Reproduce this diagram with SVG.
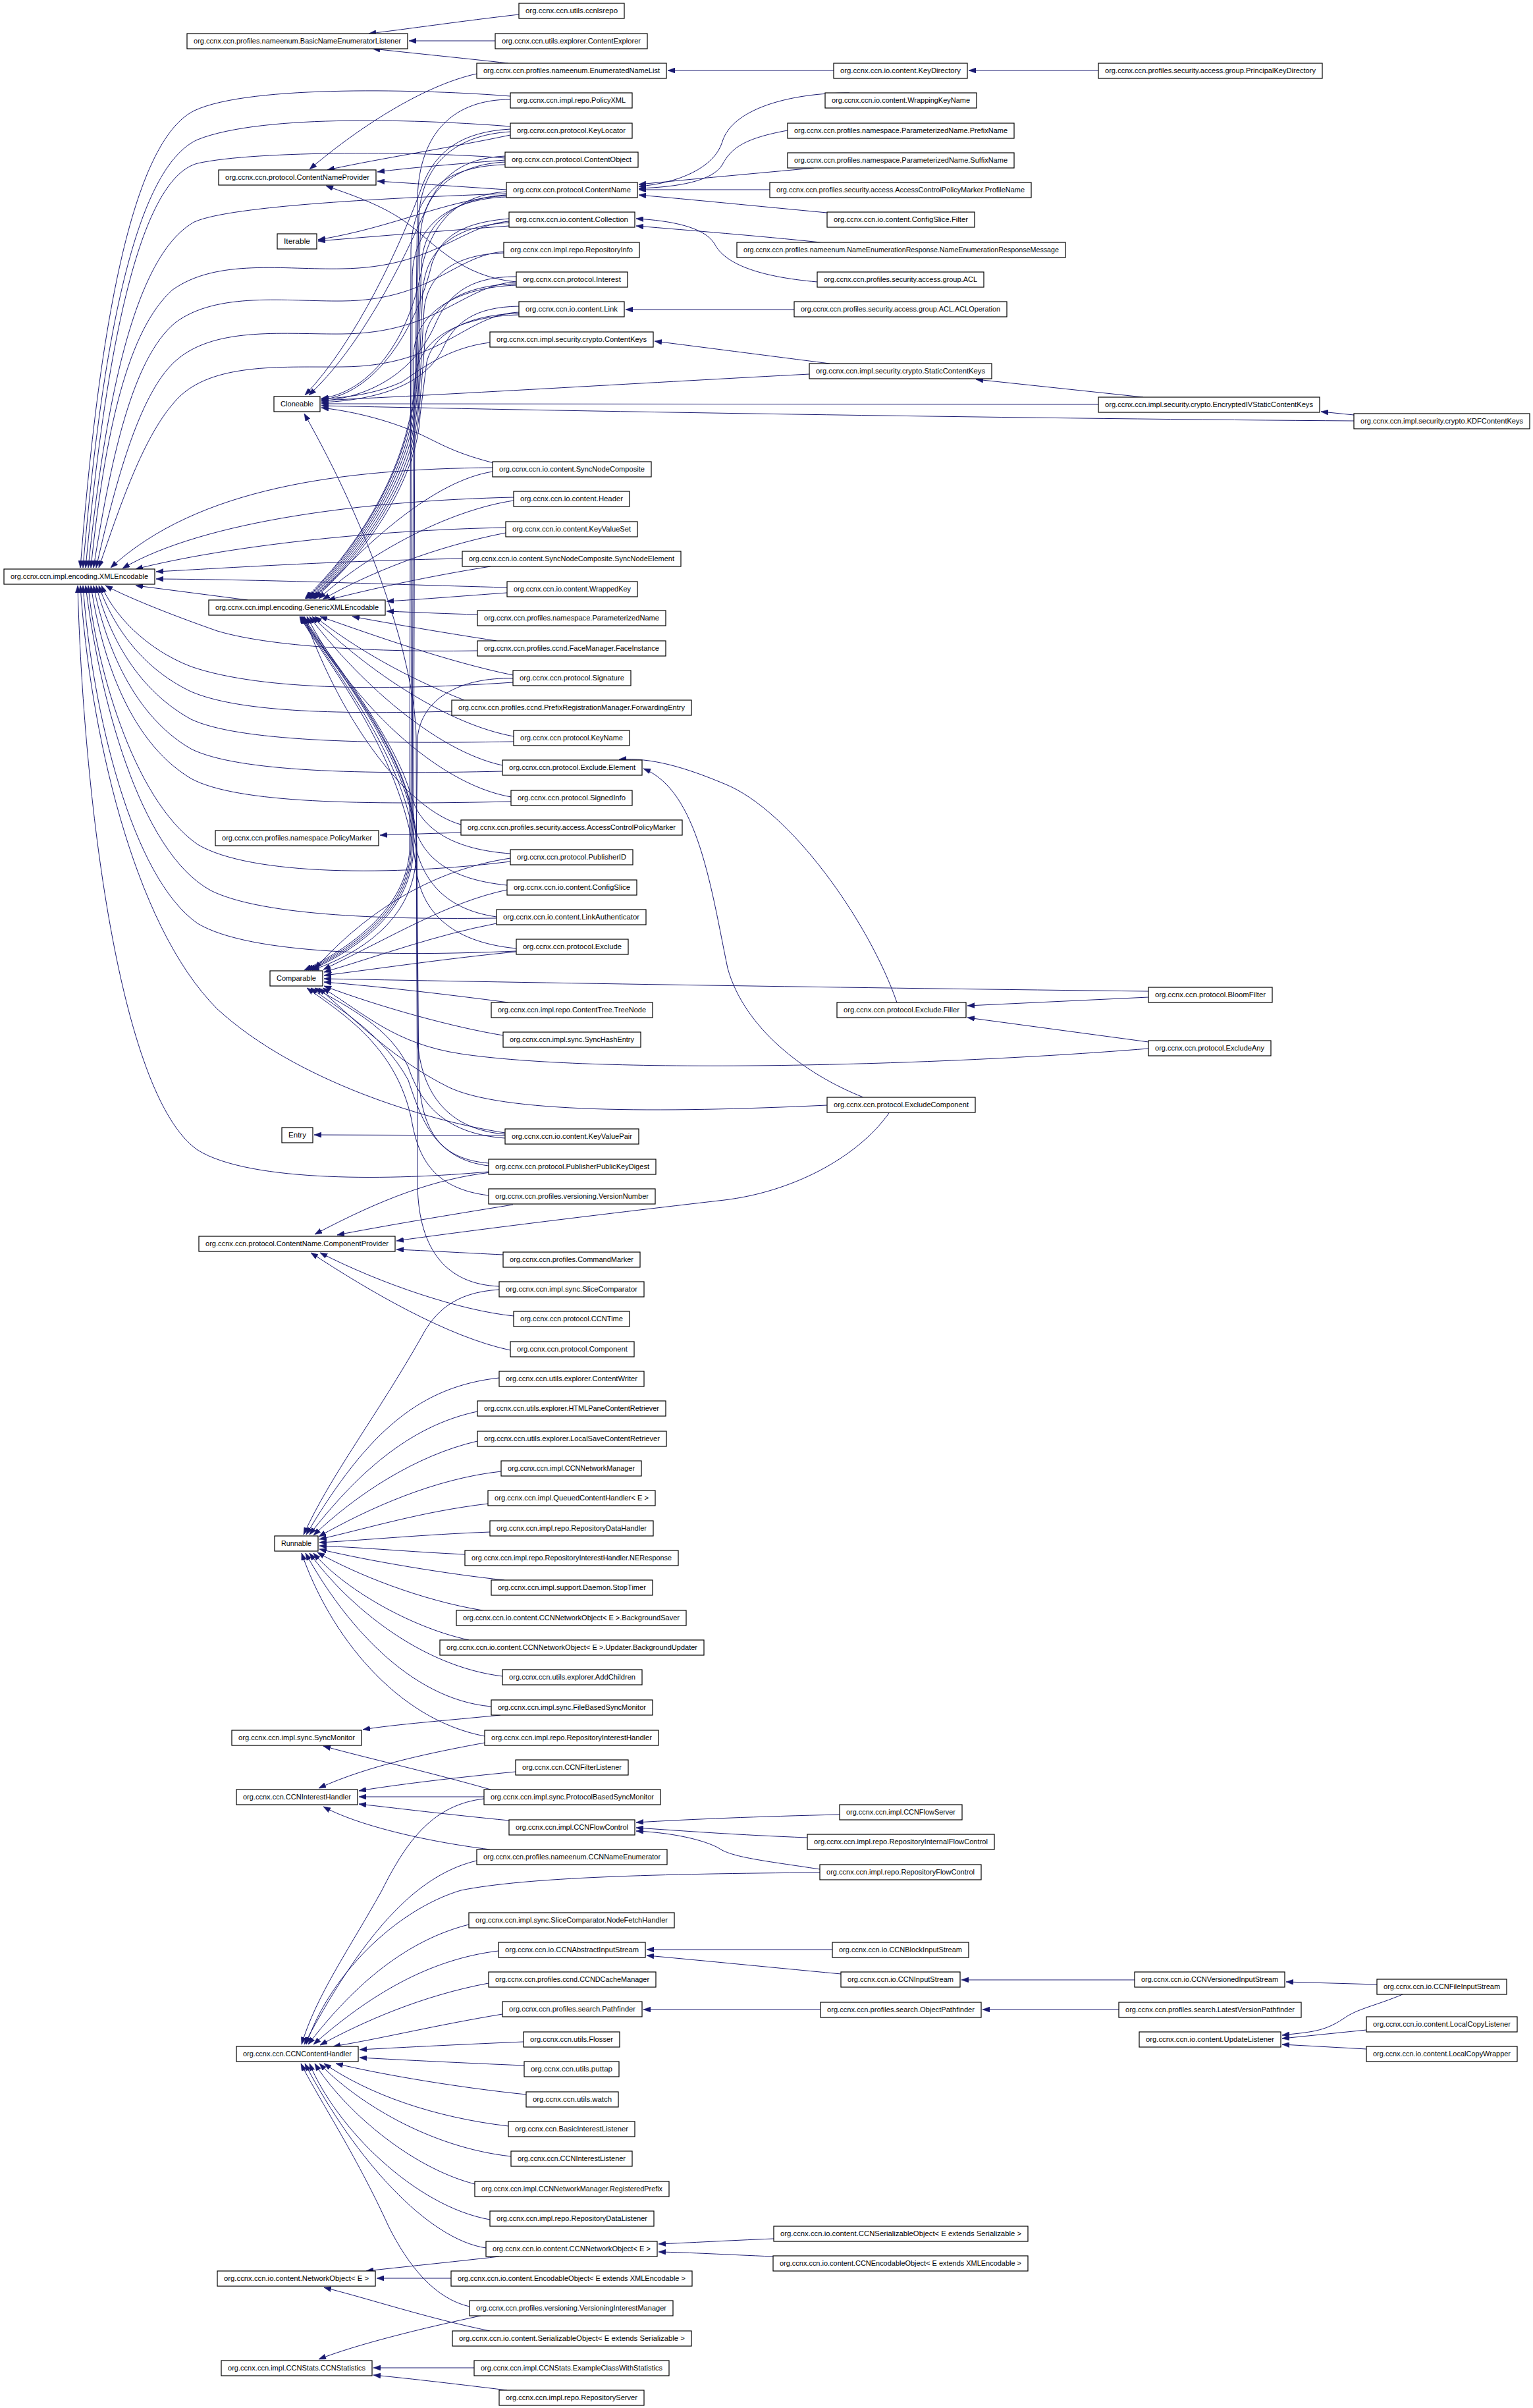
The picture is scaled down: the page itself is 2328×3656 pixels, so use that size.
<svg xmlns="http://www.w3.org/2000/svg" width="2328" height="3656" viewBox="0 0 2328 3656">
<defs>
<marker id="arr" markerWidth="11" markerHeight="8" refX="11" refY="4" orient="auto" markerUnits="userSpaceOnUse"><path d="M0,0 L11,4 L0,8 z" fill="#191970" stroke="#191970" stroke-width="0.5"/></marker>
<style>
.node rect{fill:#fff;stroke:#000;stroke-width:1.2}
.node text{font-family:"Liberation Sans",Arial,sans-serif;font-size:10.5px;text-anchor:middle;fill:#000}
.e{fill:none;stroke:#191970;stroke-width:1;marker-end:url(#arr)}
</style>
</defs>
<rect width="2328" height="3656" fill="#fff"/>
<g id="edges">
<path class="e" d="M788,22 C700,32 620,44 560,51"/>
<path class="e" d="M752,62 L621,62"/>
<path class="e" d="M772,96 C700,88 620,80 566,74"/>
<path class="e" d="M724,112 C650,128 555,185 470,257"/>
<path class="e" d="M1266,107 L1014,107"/>
<path class="e" d="M1668,107 L1471,107"/>
<path class="e" d="M775,146 C650,136 380,128 295,168 C200,215 150,500 122,862"/>
<path class="e" d="M775,192 C650,182 400,172 300,212 C205,255 155,520 126,862"/>
<path class="e" d="M767,240 C650,230 390,228 300,248 C210,272 160,540 130,862"/>
<path class="e" d="M769,294 C600,300 350,312 295,337 C215,382 165,560 134,862"/>
<path class="e" d="M773,336 C700,342 660,406 520,408 C430,410 330,392 262,440 C195,500 160,650 138,862"/>
<path class="e" d="M765,382 C690,388 655,456 520,457 C435,458 330,442 266,490 C200,545 168,700 142,862"/>
<path class="e" d="M784,428 C705,432 665,506 520,507 C435,508 330,495 270,545 C215,590 178,720 146,862"/>
<path class="e" d="M788,474 C705,478 672,556 520,557 C435,558 330,550 275,600 C222,650 185,760 150,862"/>
<path class="e" d="M748,710 C520,712 300,740 168,862"/>
<path class="e" d="M780,755 C560,760 310,790 186,863"/>
<path class="e" d="M768,801 C560,805 340,830 206,864"/>
<path class="e" d="M702,848 C500,852 350,862 237,868"/>
<path class="e" d="M770,892 C550,886 400,880 237,879"/>
<path class="e" d="M725,988 C600,990 420,985 330,958 C250,930 190,905 160,889"/>
<path class="e" d="M779,1036 C600,1048 400,1050 290,1012 C220,985 172,932 154,889"/>
<path class="e" d="M686,1080 C500,1085 360,1080 290,1050 C210,1012 168,942 150,889"/>
<path class="e" d="M780,1126 C550,1130 360,1125 290,1092 C200,1042 162,952 146,889"/>
<path class="e" d="M763,1171 C550,1176 360,1172 290,1137 C195,1082 156,962 142,889"/>
<path class="e" d="M776,1217 C550,1222 360,1220 290,1182 C190,1122 152,982 138,889"/>
<path class="e" d="M775,1308 C600,1330 380,1330 300,1282 C200,1212 144,1002 134,889"/>
<path class="e" d="M754,1394 C600,1396 400,1392 320,1352 C210,1292 150,1052 130,889"/>
<path class="e" d="M784,1444 C600,1452 380,1450 300,1402 C200,1332 140,1082 126,889"/>
<path class="e" d="M767,1720 C650,1702 450,1642 330,1532 C200,1402 136,1102 122,889"/>
<path class="e" d="M742,1779 C600,1792 380,1796 300,1746 C180,1662 126,1202 118,889"/>
<path class="e" d="M376,911 L206,889"/>
<path class="e" d="M775,151 C690,151 637,200 634,300 L631,560 C629,700 545,830 463,909"/>
<path class="e" d="M775,200 C690,205 640,250 636,330 L632,570 C628,700 547,830 465,909"/>
<path class="e" d="M767,246 C690,250 642,290 638,360 L633,580 C629,702 549,831 467,909"/>
<path class="e" d="M769,296 C700,300 645,330 640,400 L634,590 C630,705 551,832 469,909"/>
<path class="e" d="M773,338 C700,342 648,370 642,440 L635,600 C631,710 553,833 471,909"/>
<path class="e" d="M765,384 C700,386 650,410 644,470 L636,610 C632,715 555,835 473,909"/>
<path class="e" d="M784,431 C710,432 655,460 646,510 L637,620 C633,720 557,836 475,909"/>
<path class="e" d="M788,476 C720,477 660,500 648,550 L638,630 C634,725 559,838 477,909"/>
<path class="e" d="M748,716 C660,730 560,820 479,909"/>
<path class="e" d="M780,760 C680,775 560,840 484,909"/>
<path class="e" d="M768,809 C660,830 560,870 490,910"/>
<path class="e" d="M745,860 C650,875 560,895 498,911"/>
<path class="e" d="M770,900 C700,905 640,910 587,913"/>
<path class="e" d="M725,933 C680,932 640,930 587,928"/>
<path class="e" d="M754,973 C670,960 600,948 535,936"/>
<path class="e" d="M779,1025 C680,1005 560,962 486,936"/>
<path class="e" d="M705,1063 C620,1030 540,985 478,936"/>
<path class="e" d="M780,1118 C680,1100 560,1020 474,936"/>
<path class="e" d="M763,1162 C660,1140 540,1030 470,936"/>
<path class="e" d="M776,1210 C660,1190 530,1060 466,936"/>
<path class="e" d="M700,1252 C620,1230 520,1100 462,936"/>
<path class="e" d="M775,1296 C690,1290 640,1260 625,1210 C600,1120 510,1010 460,936"/>
<path class="e" d="M770,1344 C680,1335 640,1300 628,1250 C605,1130 508,1012 458,936"/>
<path class="e" d="M754,1392 C670,1380 640,1330 630,1280 C610,1140 505,1015 456,936"/>
<path class="e" d="M784,1440 C680,1430 640,1380 632,1320 C615,1150 503,1016 455,936"/>
<path class="e" d="M767,1722 C680,1715 640,1660 634,1580 L632,1280 C625,1140 506,1015 457,936"/>
<path class="e" d="M742,1766 C670,1760 642,1720 636,1640 L633,1280 C626,1140 508,1015 459,936"/>
<path class="e" d="M775,205 C680,225 580,240 497,258"/>
<path class="e" d="M767,243 C680,250 620,255 573,261"/>
<path class="e" d="M769,288 C680,282 620,278 573,275"/>
<path class="e" d="M784,428 C700,420 660,370 620,340 C580,310 530,295 495,282"/>
<path class="e" d="M769,297 C680,302 600,345 483,364"/>
<path class="e" d="M773,343 C680,350 580,358 483,366"/>
<path class="e" d="M1290,141 C1200,141 1112,165 1097,215 C1085,255 1030,278 970,283"/>
<path class="e" d="M1196,198 C1130,210 1110,225 1097,250 C1082,275 1030,284 970,286"/>
<path class="e" d="M1236,255 C1150,263 1050,272 970,280"/>
<path class="e" d="M1169,288 L970,288"/>
<path class="e" d="M1256,323 C1150,313 1050,303 970,296"/>
<path class="e" d="M1246,368 C1150,358 1050,350 966,343"/>
<path class="e" d="M1241,428 C1150,420 1100,400 1085,370 C1070,345 1020,335 966,332"/>
<path class="e" d="M1206,470 L950,470"/>
<path class="e" d="M1260,552 C1150,538 1050,525 994,518"/>
<path class="e" d="M1736,603 L1482,576"/>
<path class="e" d="M2056,630 L2006,625"/>
<path class="e" d="M1229,568 C1000,580 700,598 488,608"/>
<path class="e" d="M1668,614 L488,613"/>
<path class="e" d="M2056,639 C1600,636 900,625 488,616"/>
<path class="e" d="M744,520 C680,528 640,560 610,580 C570,598 530,603 488,606"/>
<path class="e" d="M750,703 C700,690 680,680 650,665 C600,640 540,625 488,619"/>
<path class="e" d="M775,196 C700,200 662,230 642,280 C610,370 540,520 463,600"/>
<path class="e" d="M767,237 C700,240 670,270 650,310 C612,400 545,530 469,600"/>
<path class="e" d="M769,291 C700,296 660,330 642,400 C622,520 560,595 488,605"/>
<path class="e" d="M773,332 C700,338 670,360 656,400 C632,500 570,598 488,607"/>
<path class="e" d="M784,420 C710,420 680,450 662,490 C632,560 570,602 488,609"/>
<path class="e" d="M788,465 C720,466 690,490 672,530 C642,590 560,608 488,611"/>
<path class="e" d="M758,1953 C680,1950 636,1900 634,1800 L632,1120 C630,1000 560,800 462,628"/>
<path class="e" d="M767,250 C680,252 626,290 624,380 L622,1290 C618,1380 530,1440 462,1473"/>
<path class="e" d="M769,299 C685,302 628,340 626,420 L624,1290 C620,1382 533,1441 465,1473"/>
<path class="e" d="M784,433 C700,436 630,470 628,540 L626,1290 C622,1384 536,1442 468,1473"/>
<path class="e" d="M788,478 C705,480 632,510 630,580 L628,1290 C624,1386 539,1443 471,1473"/>
<path class="e" d="M779,1030 C700,1028 640,1060 634,1120 L632,1300 C628,1400 540,1450 474,1473"/>
<path class="e" d="M775,1303 C660,1320 560,1380 478,1471"/>
<path class="e" d="M770,1351 C680,1370 600,1420 491,1472"/>
<path class="e" d="M754,1402 C660,1420 580,1450 492,1476"/>
<path class="e" d="M784,1445 C680,1455 580,1470 492,1481"/>
<path class="e" d="M1744,1505 C1300,1500 800,1492 492,1486"/>
<path class="e" d="M772,1522 C680,1510 580,1498 492,1491"/>
<path class="e" d="M764,1572 C690,1560 580,1530 492,1497"/>
<path class="e" d="M1744,1592 C1400,1620 900,1630 700,1600 C600,1585 555,1540 490,1500"/>
<path class="e" d="M1256,1678 C1000,1690 760,1690 680,1650 C600,1610 540,1550 484,1500"/>
<path class="e" d="M767,1728 C680,1722 640,1680 620,1620 C592,1560 530,1530 478,1500"/>
<path class="e" d="M742,1770 C660,1760 640,1700 620,1640 C582,1570 512,1530 472,1500"/>
<path class="e" d="M742,1815 C660,1805 635,1760 625,1700 C602,1590 522,1540 466,1500"/>
<path class="e" d="M1744,1514 L1469,1527"/>
<path class="e" d="M1744,1582 L1469,1545"/>
<path class="e" d="M1362,1522 C1320,1400 1200,1230 1100,1190 C1040,1165 990,1150 940,1153"/>
<path class="e" d="M1311,1666 C1220,1630 1130,1560 1105,1470 C1080,1350 1060,1200 977,1167"/>
<path class="e" d="M767,1724 L477,1723"/>
<path class="e" d="M745,1780 C660,1790 580,1820 478,1874"/>
<path class="e" d="M779,1829 C680,1845 590,1860 512,1875"/>
<path class="e" d="M1350,1690 C1300,1760 1200,1810 1100,1822 C900,1845 700,1870 602,1884"/>
<path class="e" d="M764,1905 C700,1902 650,1899 602,1897"/>
<path class="e" d="M780,1998 C700,1990 580,1950 486,1902"/>
<path class="e" d="M775,2050 C680,2030 560,1960 472,1902"/>
<path class="e" d="M758,1958 C690,1962 660,1992 640,2030 C572,2150 502,2240 461,2330"/>
<path class="e" d="M758,2092 C640,2105 560,2170 465,2330"/>
<path class="e" d="M725,2143 C620,2165 540,2240 470,2330"/>
<path class="e" d="M725,2188 C630,2210 540,2270 476,2331"/>
<path class="e" d="M761,2234 C660,2245 560,2290 484,2333"/>
<path class="e" d="M741,2283 C640,2295 560,2320 485,2337"/>
<path class="e" d="M744,2326 C640,2330 560,2338 485,2342"/>
<path class="e" d="M706,2360 C620,2356 560,2350 485,2347"/>
<path class="e" d="M766,2399 C680,2390 560,2370 485,2352"/>
<path class="e" d="M733,2445 C640,2430 540,2390 482,2357"/>
<path class="e" d="M712,2490 C620,2470 520,2410 476,2358"/>
<path class="e" d="M763,2545 C640,2530 530,2440 470,2358"/>
<path class="e" d="M746,2591 C620,2580 520,2460 464,2358"/>
<path class="e" d="M736,2636 C600,2610 500,2480 458,2358"/>
<path class="e" d="M760,2604 C680,2612 600,2618 551,2626"/>
<path class="e" d="M745,2717 C650,2690 560,2670 491,2651"/>
<path class="e" d="M736,2646 C660,2660 560,2680 484,2715"/>
<path class="e" d="M783,2690 C680,2700 600,2710 545,2719"/>
<path class="e" d="M735,2728 L545,2728"/>
<path class="e" d="M773,2764 C680,2755 600,2745 545,2739"/>
<path class="e" d="M744,2808 C640,2795 540,2770 491,2743"/>
<path class="e" d="M1275,2755 C1150,2758 1050,2762 966,2767"/>
<path class="e" d="M1226,2790 C1120,2786 1040,2780 966,2775"/>
<path class="e" d="M1245,2838 C1160,2825 1110,2820 1090,2805 C1060,2790 1010,2782 966,2780"/>
<path class="e" d="M1245,2843 C1000,2845 800,2850 700,2870 C600,2900 500,3000 465,3104"/>
<path class="e" d="M735,2731 C660,2740 620,2790 580,2870 C530,2960 480,3030 458,3104"/>
<path class="e" d="M724,2825 C640,2845 560,2920 462,3104"/>
<path class="e" d="M712,2922 C620,2945 540,3010 468,3104"/>
<path class="e" d="M757,2962 C650,2975 560,3030 476,3104"/>
<path class="e" d="M742,3011 C640,3030 550,3070 486,3105"/>
<path class="e" d="M763,3058 C660,3075 580,3095 506,3107"/>
<path class="e" d="M795,3100 C700,3104 620,3108 546,3112"/>
<path class="e" d="M796,3136 C700,3132 620,3128 546,3124"/>
<path class="e" d="M799,3180 C700,3170 580,3150 510,3133"/>
<path class="e" d="M772,3228 C660,3215 560,3180 492,3133"/>
<path class="e" d="M776,3274 C650,3260 540,3190 485,3133"/>
<path class="e" d="M721,3316 C620,3290 520,3200 478,3133"/>
<path class="e" d="M744,3370 C630,3350 510,3230 470,3133"/>
<path class="e" d="M738,3413 C650,3400 540,3280 463,3133"/>
<path class="e" d="M713,3502 C660,3490 620,3440 590,3380 C540,3270 480,3180 457,3133"/>
<path class="e" d="M1264,2960 L982,2960"/>
<path class="e" d="M1277,2997 C1150,2985 1050,2975 982,2969"/>
<path class="e" d="M1723,3006 L1460,3006"/>
<path class="e" d="M2091,3013 L1953,3009"/>
<path class="e" d="M2130,3028 C2090,3045 2060,3050 2040,3065 C2010,3085 1990,3085 1947,3090"/>
<path class="e" d="M2075,3082 L1947,3095"/>
<path class="e" d="M2075,3111 L1947,3104"/>
<path class="e" d="M1246,3051 L977,3051"/>
<path class="e" d="M1699,3051 L1492,3051"/>
<path class="e" d="M1175,3399 C1100,3402 1050,3405 1000,3407"/>
<path class="e" d="M1174,3426 C1100,3423 1050,3420 1000,3419"/>
<path class="e" d="M758,3426 C680,3435 610,3442 556,3448"/>
<path class="e" d="M685,3459 L572,3459"/>
<path class="e" d="M744,3539 C650,3520 560,3490 492,3473"/>
<path class="e" d="M730,3516 C640,3535 540,3560 484,3582"/>
<path class="e" d="M720,3595 L567,3595"/>
<path class="e" d="M770,3629 C680,3618 610,3610 567,3606"/>
<path class="e" d="M700,1264 L577,1268"/>
</g>
<g id="nodes">
<g class="node" id="n_ccnlsrepo"><rect x="788" y="5" width="160" height="23"/><text x="868" y="20" textLength="140" lengthAdjust="spacingAndGlyphs">org.ccnx.ccn.utils.ccnlsrepo</text></g>
<g class="node" id="n_bnel"><rect x="284" y="51" width="335" height="23"/><text x="451.5" y="66" textLength="315" lengthAdjust="spacingAndGlyphs">org.ccnx.ccn.profiles.nameenum.BasicNameEnumeratorListener</text></g>
<g class="node" id="n_contentexplorer"><rect x="752" y="51" width="231" height="23"/><text x="867.5" y="66" textLength="211" lengthAdjust="spacingAndGlyphs">org.ccnx.ccn.utils.explorer.ContentExplorer</text></g>
<g class="node" id="n_enl"><rect x="724" y="96" width="288" height="23"/><text x="868" y="111" textLength="268" lengthAdjust="spacingAndGlyphs">org.ccnx.ccn.profiles.nameenum.EnumeratedNameList</text></g>
<g class="node" id="n_keydir"><rect x="1266" y="96" width="203" height="23"/><text x="1367.5" y="111" textLength="183" lengthAdjust="spacingAndGlyphs">org.ccnx.ccn.io.content.KeyDirectory</text></g>
<g class="node" id="n_pkd"><rect x="1668" y="96" width="340" height="23"/><text x="1838" y="111" textLength="320" lengthAdjust="spacingAndGlyphs">org.ccnx.ccn.profiles.security.access.group.PrincipalKeyDirectory</text></g>
<g class="node" id="n_policyxml"><rect x="775" y="141" width="185" height="23"/><text x="867.5" y="156" textLength="165" lengthAdjust="spacingAndGlyphs">org.ccnx.ccn.impl.repo.PolicyXML</text></g>
<g class="node" id="n_wkn"><rect x="1253" y="141" width="230" height="23"/><text x="1368" y="156" textLength="210" lengthAdjust="spacingAndGlyphs">org.ccnx.ccn.io.content.WrappingKeyName</text></g>
<g class="node" id="n_keylocator"><rect x="775" y="187" width="185" height="23"/><text x="867.5" y="202" textLength="165" lengthAdjust="spacingAndGlyphs">org.ccnx.ccn.protocol.KeyLocator</text></g>
<g class="node" id="n_prefixname"><rect x="1196" y="187" width="344" height="23"/><text x="1368" y="202" textLength="324" lengthAdjust="spacingAndGlyphs">org.ccnx.ccn.profiles.namespace.ParameterizedName.PrefixName</text></g>
<g class="node" id="n_contentobject"><rect x="767" y="231" width="202" height="23"/><text x="868" y="246" textLength="182" lengthAdjust="spacingAndGlyphs">org.ccnx.ccn.protocol.ContentObject</text></g>
<g class="node" id="n_suffixname"><rect x="1196" y="232" width="344" height="23"/><text x="1368" y="247" textLength="324" lengthAdjust="spacingAndGlyphs">org.ccnx.ccn.profiles.namespace.ParameterizedName.SuffixName</text></g>
<g class="node" id="n_cnp"><rect x="332" y="258" width="239" height="23"/><text x="451.5" y="273" textLength="219" lengthAdjust="spacingAndGlyphs">org.ccnx.ccn.protocol.ContentNameProvider</text></g>
<g class="node" id="n_contentname"><rect x="769" y="277" width="199" height="23"/><text x="868.5" y="292" textLength="179" lengthAdjust="spacingAndGlyphs">org.ccnx.ccn.protocol.ContentName</text></g>
<g class="node" id="n_profilename"><rect x="1169" y="277" width="397" height="23"/><text x="1367.5" y="292" textLength="377" lengthAdjust="spacingAndGlyphs">org.ccnx.ccn.profiles.security.access.AccessControlPolicyMarker.ProfileName</text></g>
<g class="node" id="n_collection"><rect x="773" y="322" width="191" height="23"/><text x="868.5" y="337" textLength="171" lengthAdjust="spacingAndGlyphs">org.ccnx.ccn.io.content.Collection</text></g>
<g class="node" id="n_csfilter"><rect x="1256" y="322" width="224" height="23"/><text x="1368" y="337" textLength="204" lengthAdjust="spacingAndGlyphs">org.ccnx.ccn.io.content.ConfigSlice.Filter</text></g>
<g class="node" id="n_iterable"><rect x="421" y="355" width="60" height="23"/><text x="451" y="370" textLength="40" lengthAdjust="spacingAndGlyphs">Iterable</text></g>
<g class="node" id="n_repoinfo"><rect x="765" y="368" width="206" height="23"/><text x="868" y="383" textLength="186" lengthAdjust="spacingAndGlyphs">org.ccnx.ccn.impl.repo.RepositoryInfo</text></g>
<g class="node" id="n_nerm"><rect x="1119" y="368" width="499" height="23"/><text x="1368.5" y="383" textLength="479" lengthAdjust="spacingAndGlyphs">org.ccnx.ccn.profiles.nameenum.NameEnumerationResponse.NameEnumerationResponseMessage</text></g>
<g class="node" id="n_interest"><rect x="784" y="413" width="169" height="23"/><text x="868.5" y="428" textLength="149" lengthAdjust="spacingAndGlyphs">org.ccnx.ccn.protocol.Interest</text></g>
<g class="node" id="n_acl"><rect x="1241" y="413" width="253" height="23"/><text x="1367.5" y="428" textLength="233" lengthAdjust="spacingAndGlyphs">org.ccnx.ccn.profiles.security.access.group.ACL</text></g>
<g class="node" id="n_link"><rect x="788" y="458" width="160" height="23"/><text x="868" y="473" textLength="140" lengthAdjust="spacingAndGlyphs">org.ccnx.ccn.io.content.Link</text></g>
<g class="node" id="n_acloperation"><rect x="1206" y="458" width="323" height="23"/><text x="1367.5" y="473" textLength="303" lengthAdjust="spacingAndGlyphs">org.ccnx.ccn.profiles.security.access.group.ACL.ACLOperation</text></g>
<g class="node" id="n_contentkeys"><rect x="744" y="504" width="248" height="23"/><text x="868" y="519" textLength="228" lengthAdjust="spacingAndGlyphs">org.ccnx.ccn.impl.security.crypto.ContentKeys</text></g>
<g class="node" id="n_statickeys"><rect x="1229" y="552" width="277" height="23"/><text x="1367.5" y="567" textLength="257" lengthAdjust="spacingAndGlyphs">org.ccnx.ccn.impl.security.crypto.StaticContentKeys</text></g>
<g class="node" id="n_cloneable"><rect x="416" y="602" width="70" height="23"/><text x="451" y="617" textLength="50" lengthAdjust="spacingAndGlyphs">Cloneable</text></g>
<g class="node" id="n_encivkeys"><rect x="1668" y="603" width="336" height="23"/><text x="1836" y="618" textLength="316" lengthAdjust="spacingAndGlyphs">org.ccnx.ccn.impl.security.crypto.EncryptedIVStaticContentKeys</text></g>
<g class="node" id="n_kdfkeys"><rect x="2056" y="628" width="267" height="23"/><text x="2189.5" y="643" textLength="247" lengthAdjust="spacingAndGlyphs">org.ccnx.ccn.impl.security.crypto.KDFContentKeys</text></g>
<g class="node" id="n_syncnodecomposite"><rect x="748" y="701" width="241" height="23"/><text x="868.5" y="716" textLength="221" lengthAdjust="spacingAndGlyphs">org.ccnx.ccn.io.content.SyncNodeComposite</text></g>
<g class="node" id="n_header"><rect x="780" y="746" width="176" height="23"/><text x="868" y="761" textLength="156" lengthAdjust="spacingAndGlyphs">org.ccnx.ccn.io.content.Header</text></g>
<g class="node" id="n_keyvalueset"><rect x="768" y="792" width="200" height="23"/><text x="868" y="807" textLength="180" lengthAdjust="spacingAndGlyphs">org.ccnx.ccn.io.content.KeyValueSet</text></g>
<g class="node" id="n_syncnodeelement"><rect x="702" y="837" width="332" height="23"/><text x="868" y="852" textLength="312" lengthAdjust="spacingAndGlyphs">org.ccnx.ccn.io.content.SyncNodeComposite.SyncNodeElement</text></g>
<g class="node" id="n_xmlencodable"><rect x="6" y="864" width="229" height="23"/><text x="120.5" y="879" textLength="209" lengthAdjust="spacingAndGlyphs">org.ccnx.ccn.impl.encoding.XMLEncodable</text></g>
<g class="node" id="n_wrappedkey"><rect x="770" y="883" width="198" height="23"/><text x="869" y="898" textLength="178" lengthAdjust="spacingAndGlyphs">org.ccnx.ccn.io.content.WrappedKey</text></g>
<g class="node" id="n_gxe"><rect x="317" y="911" width="268" height="23"/><text x="451" y="926" textLength="248" lengthAdjust="spacingAndGlyphs">org.ccnx.ccn.impl.encoding.GenericXMLEncodable</text></g>
<g class="node" id="n_paramname"><rect x="725" y="927" width="286" height="23"/><text x="868" y="942" textLength="266" lengthAdjust="spacingAndGlyphs">org.ccnx.ccn.profiles.namespace.ParameterizedName</text></g>
<g class="node" id="n_faceinstance"><rect x="725" y="973" width="286" height="23"/><text x="868" y="988" textLength="266" lengthAdjust="spacingAndGlyphs">org.ccnx.ccn.profiles.ccnd.FaceManager.FaceInstance</text></g>
<g class="node" id="n_signature"><rect x="779" y="1018" width="179" height="23"/><text x="868.5" y="1033" textLength="159" lengthAdjust="spacingAndGlyphs">org.ccnx.ccn.protocol.Signature</text></g>
<g class="node" id="n_fwdentry"><rect x="686" y="1063" width="364" height="23"/><text x="868" y="1078" textLength="344" lengthAdjust="spacingAndGlyphs">org.ccnx.ccn.profiles.ccnd.PrefixRegistrationManager.ForwardingEntry</text></g>
<g class="node" id="n_keyname"><rect x="780" y="1109" width="176" height="23"/><text x="868" y="1124" textLength="156" lengthAdjust="spacingAndGlyphs">org.ccnx.ccn.protocol.KeyName</text></g>
<g class="node" id="n_exclelement"><rect x="763" y="1154" width="212" height="23"/><text x="869" y="1169" textLength="192" lengthAdjust="spacingAndGlyphs">org.ccnx.ccn.protocol.Exclude.Element</text></g>
<g class="node" id="n_signedinfo"><rect x="776" y="1200" width="184" height="23"/><text x="868" y="1215" textLength="164" lengthAdjust="spacingAndGlyphs">org.ccnx.ccn.protocol.SignedInfo</text></g>
<g class="node" id="n_acpm"><rect x="700" y="1245" width="336" height="23"/><text x="868" y="1260" textLength="316" lengthAdjust="spacingAndGlyphs">org.ccnx.ccn.profiles.security.access.AccessControlPolicyMarker</text></g>
<g class="node" id="n_policymarker"><rect x="327" y="1261" width="248" height="23"/><text x="451" y="1276" textLength="228" lengthAdjust="spacingAndGlyphs">org.ccnx.ccn.profiles.namespace.PolicyMarker</text></g>
<g class="node" id="n_publisherid"><rect x="775" y="1290" width="186" height="23"/><text x="868" y="1305" textLength="166" lengthAdjust="spacingAndGlyphs">org.ccnx.ccn.protocol.PublisherID</text></g>
<g class="node" id="n_configslice"><rect x="770" y="1336" width="197" height="23"/><text x="868.5" y="1351" textLength="177" lengthAdjust="spacingAndGlyphs">org.ccnx.ccn.io.content.ConfigSlice</text></g>
<g class="node" id="n_linkauth"><rect x="754" y="1381" width="227" height="23"/><text x="867.5" y="1396" textLength="207" lengthAdjust="spacingAndGlyphs">org.ccnx.ccn.io.content.LinkAuthenticator</text></g>
<g class="node" id="n_exclude"><rect x="784" y="1426" width="170" height="23"/><text x="869" y="1441" textLength="150" lengthAdjust="spacingAndGlyphs">org.ccnx.ccn.protocol.Exclude</text></g>
<g class="node" id="n_comparable"><rect x="410" y="1474" width="80" height="23"/><text x="450" y="1489" textLength="60" lengthAdjust="spacingAndGlyphs">Comparable</text></g>
<g class="node" id="n_bloomfilter"><rect x="1744" y="1499" width="188" height="23"/><text x="1838" y="1514" textLength="168" lengthAdjust="spacingAndGlyphs">org.ccnx.ccn.protocol.BloomFilter</text></g>
<g class="node" id="n_treenode"><rect x="746" y="1522" width="245" height="23"/><text x="868.5" y="1537" textLength="225" lengthAdjust="spacingAndGlyphs">org.ccnx.ccn.impl.repo.ContentTree.TreeNode</text></g>
<g class="node" id="n_exclfiller"><rect x="1271" y="1522" width="196" height="23"/><text x="1369" y="1537" textLength="176" lengthAdjust="spacingAndGlyphs">org.ccnx.ccn.protocol.Exclude.Filler</text></g>
<g class="node" id="n_synchashentry"><rect x="764" y="1567" width="209" height="23"/><text x="868.5" y="1582" textLength="189" lengthAdjust="spacingAndGlyphs">org.ccnx.ccn.impl.sync.SyncHashEntry</text></g>
<g class="node" id="n_excludeany"><rect x="1744" y="1580" width="186" height="23"/><text x="1837" y="1595" textLength="166" lengthAdjust="spacingAndGlyphs">org.ccnx.ccn.protocol.ExcludeAny</text></g>
<g class="node" id="n_exclcomponent"><rect x="1256" y="1666" width="225" height="23"/><text x="1368.5" y="1681" textLength="205" lengthAdjust="spacingAndGlyphs">org.ccnx.ccn.protocol.ExcludeComponent</text></g>
<g class="node" id="n_entry"><rect x="428" y="1712" width="47" height="23"/><text x="451.5" y="1727" textLength="27" lengthAdjust="spacingAndGlyphs">Entry</text></g>
<g class="node" id="n_keyvaluepair"><rect x="767" y="1714" width="203" height="23"/><text x="868.5" y="1729" textLength="183" lengthAdjust="spacingAndGlyphs">org.ccnx.ccn.io.content.KeyValuePair</text></g>
<g class="node" id="n_ppkd"><rect x="742" y="1760" width="254" height="23"/><text x="869" y="1775" textLength="234" lengthAdjust="spacingAndGlyphs">org.ccnx.ccn.protocol.PublisherPublicKeyDigest</text></g>
<g class="node" id="n_versionnumber"><rect x="742" y="1805" width="253" height="23"/><text x="868.5" y="1820" textLength="233" lengthAdjust="spacingAndGlyphs">org.ccnx.ccn.profiles.versioning.VersionNumber</text></g>
<g class="node" id="n_compprovider"><rect x="302" y="1877" width="298" height="23"/><text x="451" y="1892" textLength="278" lengthAdjust="spacingAndGlyphs">org.ccnx.ccn.protocol.ContentName.ComponentProvider</text></g>
<g class="node" id="n_commandmarker"><rect x="764" y="1901" width="208" height="23"/><text x="868" y="1916" textLength="188" lengthAdjust="spacingAndGlyphs">org.ccnx.ccn.profiles.CommandMarker</text></g>
<g class="node" id="n_slicecomparator"><rect x="758" y="1946" width="220" height="23"/><text x="868" y="1961" textLength="200" lengthAdjust="spacingAndGlyphs">org.ccnx.ccn.impl.sync.SliceComparator</text></g>
<g class="node" id="n_ccntime"><rect x="780" y="1991" width="176" height="23"/><text x="868" y="2006" textLength="156" lengthAdjust="spacingAndGlyphs">org.ccnx.ccn.protocol.CCNTime</text></g>
<g class="node" id="n_component"><rect x="775" y="2037" width="188" height="23"/><text x="869" y="2052" textLength="168" lengthAdjust="spacingAndGlyphs">org.ccnx.ccn.protocol.Component</text></g>
<g class="node" id="n_contentwriter"><rect x="758" y="2082" width="220" height="23"/><text x="868" y="2097" textLength="200" lengthAdjust="spacingAndGlyphs">org.ccnx.ccn.utils.explorer.ContentWriter</text></g>
<g class="node" id="n_htmlpane"><rect x="725" y="2127" width="286" height="23"/><text x="868" y="2142" textLength="266" lengthAdjust="spacingAndGlyphs">org.ccnx.ccn.utils.explorer.HTMLPaneContentRetriever</text></g>
<g class="node" id="n_localsave"><rect x="725" y="2173" width="287" height="23"/><text x="868.5" y="2188" textLength="267" lengthAdjust="spacingAndGlyphs">org.ccnx.ccn.utils.explorer.LocalSaveContentRetriever</text></g>
<g class="node" id="n_ccnnetmgr"><rect x="761" y="2218" width="213" height="23"/><text x="867.5" y="2233" textLength="193" lengthAdjust="spacingAndGlyphs">org.ccnx.ccn.impl.CCNNetworkManager</text></g>
<g class="node" id="n_queued"><rect x="741" y="2263" width="254" height="23"/><text x="868" y="2278" textLength="234" lengthAdjust="spacingAndGlyphs">org.ccnx.ccn.impl.QueuedContentHandler&lt; E &gt;</text></g>
<g class="node" id="n_repodatahandler"><rect x="744" y="2309" width="248" height="23"/><text x="868" y="2324" textLength="228" lengthAdjust="spacingAndGlyphs">org.ccnx.ccn.impl.repo.RepositoryDataHandler</text></g>
<g class="node" id="n_runnable"><rect x="417" y="2332" width="66" height="23"/><text x="450" y="2347" textLength="46" lengthAdjust="spacingAndGlyphs">Runnable</text></g>
<g class="node" id="n_neresponse"><rect x="706" y="2354" width="324" height="23"/><text x="868" y="2369" textLength="304" lengthAdjust="spacingAndGlyphs">org.ccnx.ccn.impl.repo.RepositoryInterestHandler.NEResponse</text></g>
<g class="node" id="n_stoptimer"><rect x="746" y="2399" width="245" height="23"/><text x="868.5" y="2414" textLength="225" lengthAdjust="spacingAndGlyphs">org.ccnx.ccn.impl.support.Daemon.StopTimer</text></g>
<g class="node" id="n_bgsaver"><rect x="693" y="2445" width="349" height="23"/><text x="867.5" y="2460" textLength="329" lengthAdjust="spacingAndGlyphs">org.ccnx.ccn.io.content.CCNNetworkObject&lt; E &gt;.BackgroundSaver</text></g>
<g class="node" id="n_bgupdater"><rect x="668" y="2490" width="401" height="23"/><text x="868.5" y="2505" textLength="381" lengthAdjust="spacingAndGlyphs">org.ccnx.ccn.io.content.CCNNetworkObject&lt; E &gt;.Updater.BackgroundUpdater</text></g>
<g class="node" id="n_addchildren"><rect x="763" y="2535" width="212" height="23"/><text x="869" y="2550" textLength="192" lengthAdjust="spacingAndGlyphs">org.ccnx.ccn.utils.explorer.AddChildren</text></g>
<g class="node" id="n_filebased"><rect x="746" y="2581" width="245" height="23"/><text x="868.5" y="2596" textLength="225" lengthAdjust="spacingAndGlyphs">org.ccnx.ccn.impl.sync.FileBasedSyncMonitor</text></g>
<g class="node" id="n_syncmonitor"><rect x="352" y="2627" width="197" height="23"/><text x="450.5" y="2642" textLength="177" lengthAdjust="spacingAndGlyphs">org.ccnx.ccn.impl.sync.SyncMonitor</text></g>
<g class="node" id="n_repointeresthandler"><rect x="736" y="2627" width="264" height="23"/><text x="868" y="2642" textLength="244" lengthAdjust="spacingAndGlyphs">org.ccnx.ccn.impl.repo.RepositoryInterestHandler</text></g>
<g class="node" id="n_ccnfilterlistener"><rect x="783" y="2672" width="171" height="23"/><text x="868.5" y="2687" textLength="151" lengthAdjust="spacingAndGlyphs">org.ccnx.ccn.CCNFilterListener</text></g>
<g class="node" id="n_ccninteresthandler"><rect x="359" y="2717" width="184" height="23"/><text x="451" y="2732" textLength="164" lengthAdjust="spacingAndGlyphs">org.ccnx.ccn.CCNInterestHandler</text></g>
<g class="node" id="n_protocolbased"><rect x="735" y="2717" width="268" height="23"/><text x="869" y="2732" textLength="248" lengthAdjust="spacingAndGlyphs">org.ccnx.ccn.impl.sync.ProtocolBasedSyncMonitor</text></g>
<g class="node" id="n_ccnflowserver"><rect x="1275" y="2740" width="186" height="23"/><text x="1368" y="2755" textLength="166" lengthAdjust="spacingAndGlyphs">org.ccnx.ccn.impl.CCNFlowServer</text></g>
<g class="node" id="n_ccnflowcontrol"><rect x="773" y="2763" width="191" height="23"/><text x="868.5" y="2778" textLength="171" lengthAdjust="spacingAndGlyphs">org.ccnx.ccn.impl.CCNFlowControl</text></g>
<g class="node" id="n_repointernalflow"><rect x="1226" y="2785" width="284" height="23"/><text x="1368" y="2800" textLength="264" lengthAdjust="spacingAndGlyphs">org.ccnx.ccn.impl.repo.RepositoryInternalFlowControl</text></g>
<g class="node" id="n_ccnnameenum"><rect x="724" y="2808" width="289" height="23"/><text x="868.5" y="2823" textLength="269" lengthAdjust="spacingAndGlyphs">org.ccnx.ccn.profiles.nameenum.CCNNameEnumerator</text></g>
<g class="node" id="n_repoflowcontrol"><rect x="1245" y="2831" width="245" height="23"/><text x="1367.5" y="2846" textLength="225" lengthAdjust="spacingAndGlyphs">org.ccnx.ccn.impl.repo.RepositoryFlowControl</text></g>
<g class="node" id="n_nodefetch"><rect x="712" y="2904" width="312" height="23"/><text x="868" y="2919" textLength="292" lengthAdjust="spacingAndGlyphs">org.ccnx.ccn.impl.sync.SliceComparator.NodeFetchHandler</text></g>
<g class="node" id="n_ccnabstractis"><rect x="757" y="2949" width="223" height="23"/><text x="868.5" y="2964" textLength="203" lengthAdjust="spacingAndGlyphs">org.ccnx.ccn.io.CCNAbstractInputStream</text></g>
<g class="node" id="n_ccnblockis"><rect x="1264" y="2949" width="207" height="23"/><text x="1367.5" y="2964" textLength="187" lengthAdjust="spacingAndGlyphs">org.ccnx.ccn.io.CCNBlockInputStream</text></g>
<g class="node" id="n_ccndcache"><rect x="742" y="2994" width="254" height="23"/><text x="869" y="3009" textLength="234" lengthAdjust="spacingAndGlyphs">org.ccnx.ccn.profiles.ccnd.CCNDCacheManager</text></g>
<g class="node" id="n_ccninputstream"><rect x="1277" y="2994" width="181" height="23"/><text x="1367.5" y="3009" textLength="161" lengthAdjust="spacingAndGlyphs">org.ccnx.ccn.io.CCNInputStream</text></g>
<g class="node" id="n_ccnversionedis"><rect x="1723" y="2994" width="228" height="23"/><text x="1837" y="3009" textLength="208" lengthAdjust="spacingAndGlyphs">org.ccnx.ccn.io.CCNVersionedInputStream</text></g>
<g class="node" id="n_ccnfileis"><rect x="2091" y="3005" width="197" height="23"/><text x="2189.5" y="3020" textLength="177" lengthAdjust="spacingAndGlyphs">org.ccnx.ccn.io.CCNFileInputStream</text></g>
<g class="node" id="n_pathfinder"><rect x="763" y="3039" width="212" height="23"/><text x="869" y="3054" textLength="192" lengthAdjust="spacingAndGlyphs">org.ccnx.ccn.profiles.search.Pathfinder</text></g>
<g class="node" id="n_objectpathfinder"><rect x="1246" y="3040" width="244" height="23"/><text x="1368" y="3055" textLength="224" lengthAdjust="spacingAndGlyphs">org.ccnx.ccn.profiles.search.ObjectPathfinder</text></g>
<g class="node" id="n_latestversionpf"><rect x="1699" y="3040" width="277" height="23"/><text x="1837.5" y="3055" textLength="257" lengthAdjust="spacingAndGlyphs">org.ccnx.ccn.profiles.search.LatestVersionPathfinder</text></g>
<g class="node" id="n_localcopylistener"><rect x="2075" y="3062" width="229" height="23"/><text x="2189.5" y="3077" textLength="209" lengthAdjust="spacingAndGlyphs">org.ccnx.ccn.io.content.LocalCopyListener</text></g>
<g class="node" id="n_flosser"><rect x="795" y="3085" width="146" height="23"/><text x="868" y="3100" textLength="126" lengthAdjust="spacingAndGlyphs">org.ccnx.ccn.utils.Flosser</text></g>
<g class="node" id="n_updatelistener"><rect x="1730" y="3085" width="215" height="23"/><text x="1837.5" y="3100" textLength="195" lengthAdjust="spacingAndGlyphs">org.ccnx.ccn.io.content.UpdateListener</text></g>
<g class="node" id="n_ccncontenthandler"><rect x="359" y="3107" width="185" height="23"/><text x="451.5" y="3122" textLength="165" lengthAdjust="spacingAndGlyphs">org.ccnx.ccn.CCNContentHandler</text></g>
<g class="node" id="n_localcopywrapper"><rect x="2075" y="3107" width="229" height="23"/><text x="2189.5" y="3122" textLength="209" lengthAdjust="spacingAndGlyphs">org.ccnx.ccn.io.content.LocalCopyWrapper</text></g>
<g class="node" id="n_puttap"><rect x="796" y="3130" width="144" height="23"/><text x="868" y="3145" textLength="124" lengthAdjust="spacingAndGlyphs">org.ccnx.ccn.utils.puttap</text></g>
<g class="node" id="n_watch"><rect x="799" y="3176" width="140" height="23"/><text x="869" y="3191" textLength="120" lengthAdjust="spacingAndGlyphs">org.ccnx.ccn.utils.watch</text></g>
<g class="node" id="n_basicinterestlistener"><rect x="772" y="3221" width="192" height="23"/><text x="868" y="3236" textLength="172" lengthAdjust="spacingAndGlyphs">org.ccnx.ccn.BasicInterestListener</text></g>
<g class="node" id="n_ccninterestlistener"><rect x="776" y="3266" width="184" height="23"/><text x="868" y="3281" textLength="164" lengthAdjust="spacingAndGlyphs">org.ccnx.ccn.CCNInterestListener</text></g>
<g class="node" id="n_registeredprefix"><rect x="721" y="3312" width="295" height="23"/><text x="868.5" y="3327" textLength="275" lengthAdjust="spacingAndGlyphs">org.ccnx.ccn.impl.CCNNetworkManager.RegisteredPrefix</text></g>
<g class="node" id="n_repodatalistener"><rect x="744" y="3357" width="249" height="23"/><text x="868.5" y="3372" textLength="229" lengthAdjust="spacingAndGlyphs">org.ccnx.ccn.impl.repo.RepositoryDataListener</text></g>
<g class="node" id="n_ccnserializable"><rect x="1175" y="3380" width="386" height="23"/><text x="1368" y="3395" textLength="366" lengthAdjust="spacingAndGlyphs">org.ccnx.ccn.io.content.CCNSerializableObject&lt; E extends Serializable &gt;</text></g>
<g class="node" id="n_ccnnetworkobject"><rect x="738" y="3403" width="260" height="23"/><text x="868" y="3418" textLength="240" lengthAdjust="spacingAndGlyphs">org.ccnx.ccn.io.content.CCNNetworkObject&lt; E &gt;</text></g>
<g class="node" id="n_ccnencodable"><rect x="1174" y="3425" width="387" height="23"/><text x="1367.5" y="3440" textLength="367" lengthAdjust="spacingAndGlyphs">org.ccnx.ccn.io.content.CCNEncodableObject&lt; E extends XMLEncodable &gt;</text></g>
<g class="node" id="n_networkobject"><rect x="330" y="3448" width="240" height="23"/><text x="450" y="3463" textLength="220" lengthAdjust="spacingAndGlyphs">org.ccnx.ccn.io.content.NetworkObject&lt; E &gt;</text></g>
<g class="node" id="n_encodableobject"><rect x="685" y="3448" width="366" height="23"/><text x="868" y="3463" textLength="346" lengthAdjust="spacingAndGlyphs">org.ccnx.ccn.io.content.EncodableObject&lt; E extends XMLEncodable &gt;</text></g>
<g class="node" id="n_versioningim"><rect x="713" y="3493" width="309" height="23"/><text x="867.5" y="3508" textLength="289" lengthAdjust="spacingAndGlyphs">org.ccnx.ccn.profiles.versioning.VersioningInterestManager</text></g>
<g class="node" id="n_serializableobject"><rect x="687" y="3539" width="363" height="23"/><text x="868.5" y="3554" textLength="343" lengthAdjust="spacingAndGlyphs">org.ccnx.ccn.io.content.SerializableObject&lt; E extends Serializable &gt;</text></g>
<g class="node" id="n_ccnstatistics"><rect x="336" y="3584" width="229" height="23"/><text x="450.5" y="3599" textLength="209" lengthAdjust="spacingAndGlyphs">org.ccnx.ccn.impl.CCNStats.CCNStatistics</text></g>
<g class="node" id="n_exampleclass"><rect x="720" y="3584" width="296" height="23"/><text x="868" y="3599" textLength="276" lengthAdjust="spacingAndGlyphs">org.ccnx.ccn.impl.CCNStats.ExampleClassWithStatistics</text></g>
<g class="node" id="n_reposerver"><rect x="758" y="3629" width="220" height="23"/><text x="868" y="3644" textLength="200" lengthAdjust="spacingAndGlyphs">org.ccnx.ccn.impl.repo.RepositoryServer</text></g>
</g>
</svg>
